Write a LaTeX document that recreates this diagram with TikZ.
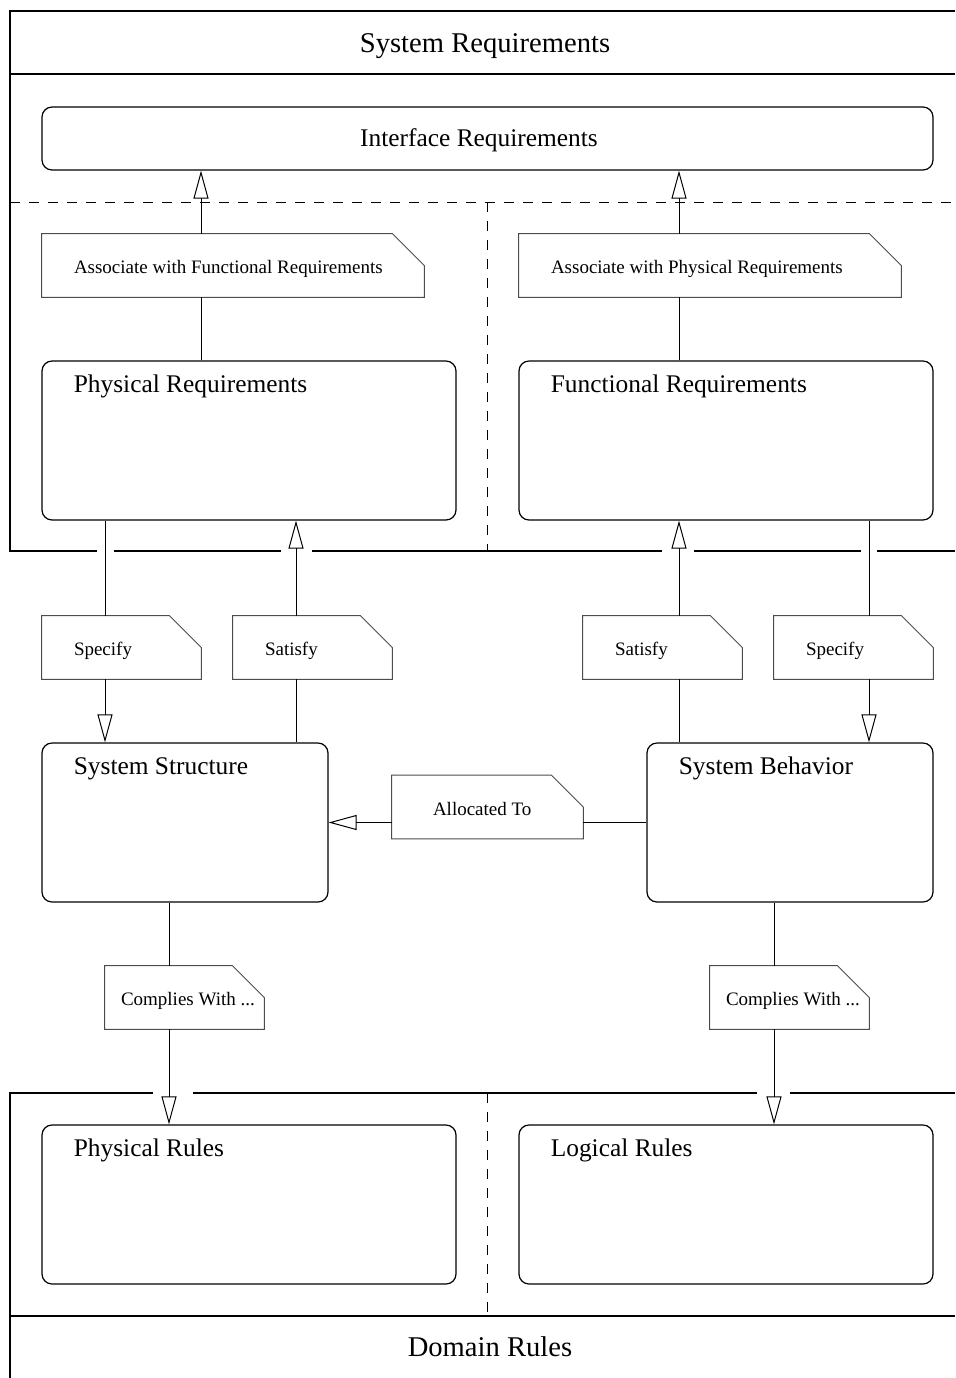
\documentclass[tikz,border=0pt]{standalone}
\usepackage{fontspec}
\setmainfont{Liberation Serif}
\usetikzlibrary{arrows.meta}

\tikzset{
  box/.style={draw,line width=0.6pt,rounded corners=5pt,inner sep=0pt},
  note/.style={inner sep=0pt,minimum width=79.5pt,minimum height=31.5pt},
  noteline/.style={draw=black!70,line width=0.45pt},
  notetext/.style={anchor=base west,inner sep=0pt,font=\fontsize{9.5}{11}\selectfont},
  boxtitle/.style={anchor=base west,inner sep=0pt,font=\fontsize{12.7}{15}\selectfont},
  frametitle/.style={anchor=base,inner sep=0pt,font=\fontsize{14.3}{17}\selectfont},
  frameline/.style={line width=0.55pt},
  laneline/.style={line width=0.5pt,dash pattern=on 5pt off 4.5pt},
  tri/.style={-{Triangle[open,length=14pt,width=7.5pt]}}
}

\begin{document}
\begin{tikzpicture}[x=0.5pt,y=-0.5pt]
  \useasboundingbox (0,0) rectangle (955,1378);
  \coordinate (laneA) at (105,0);
  \coordinate (laneB) at (296,0);
  \coordinate (laneC) at (679,0);
  \coordinate (laneD) at (869,0);
  \coordinate (laneE) at (201,0);
  \coordinate (laneG) at (169,0);
  \coordinate (laneH) at (774,0);

  \draw[frameline] (955,11) -- (10,11) -- (10,551) -- (97,551);
  \draw[frameline] (114,551) -- (281,551) (312,551) -- (662,551)
    (694,551) -- (861,551) (877,551) -- (955,551);
  \draw[frameline] (10,74) -- (955,74);
  \draw[laneline] (10,202) -- (955,202) (487,202) -- (487,551);
  \draw[frameline] (153,1093) -- (10,1093) -- (10,1378);
  \draw[frameline] (193,1093) -- (757,1093) (790,1093) -- (955,1093);
  \draw[frameline] (10,1316) -- (955,1316);
  \draw[laneline] (487,1093) -- (487,1316);
  \node[frametitle] (sysreqT) at (485,52) {System Requirements};
  \node[frametitle] (domainT) at (490,1356) {Domain Rules};

  \begin{scope}[every node/.style={box}]
  \node[minimum width=445.5pt,minimum height=31.5pt] (iface) at (487.5,138.5) {};
  \node[minimum width=207pt,minimum height=79.5pt] (physreq) at (249,440.5) {};
  \node[minimum width=207pt,minimum height=79.5pt] (funcreq) at (726,440.5) {};
  \node[minimum width=143pt,minimum height=79.5pt] (struct) at (185,822.5) {};
  \node[minimum width=143pt,minimum height=79.5pt] (behav) at (790,822.5) {};
  \node[minimum width=207pt,minimum height=79.5pt] (physrules) at (249,1204.5) {};
  \node[minimum width=207pt,minimum height=79.5pt] (logrules) at (726,1204.5) {};
  \end{scope}
  \node[boxtitle,anchor=base] (ifaceT) at (479,146) {Interface Requirements};
  \node[boxtitle] (physreqT) at ([shift={(16pt,-16pt)}]physreq.north west) {Physical Requirements};
  \node[boxtitle] (funcreqT) at ([shift={(16pt,-16pt)}]funcreq.north west) {Functional Requirements};
  \node[boxtitle] (structT) at ([shift={(16pt,-16pt)}]struct.north west) {System Structure};
  \node[boxtitle] (behavT) at ([shift={(16pt,-16pt)}]behav.north west) {System Behavior};
  \node[boxtitle] (physrulesT) at ([shift={(16pt,-16pt)}]physrules.north west) {Physical Rules};
  \node[boxtitle] (logrulesT) at ([shift={(16pt,-16pt)}]logrules.north west) {Logical Rules};

  \begin{scope}[every node/.style={note}]
  \node[minimum width=191pt] (assocP) at (233,265.5) {};
  \node[minimum width=191pt] (assocF) at (710,265.5) {};
  \node (specP) at (121.5,647.5) {};
  \node (satP) at (312.5,647.5) {};
  \node (satF) at (662.5,647.5) {};
  \node (specF) at (853.5,647.5) {};
  \node[minimum width=95.5pt] (alloc) at (487.5,807) {};
  \node (compS) at (184.5,997.5) {};
  \node (compB) at (789.5,997.5) {};
  \end{scope}
  \foreach \n in {assocP,assocF,specP,satP,satF,specF,alloc,compS,compB}
    \draw[noteline] (\n.south west) -- (\n.south east) -- ([yshift=-16pt]\n.north east)
      -- ([xshift=-16pt]\n.north east) -- (\n.north west) -- cycle;
  \node[notetext] (assocPT) at ([shift={(16pt,-4pt)}]assocP.west) {Associate with Functional Requirements};
  \node[notetext] (assocFT) at ([shift={(16pt,-4pt)}]assocF.west) {Associate with Physical Requirements};
  \node[notetext] (specPT) at ([shift={(16pt,-4pt)}]specP.west) {Specify};
  \node[notetext] (satPT) at ([shift={(16pt,-4pt)}]satP.west) {Satisfy};
  \node[notetext] (satFT) at ([shift={(16pt,-4pt)}]satF.west) {Satisfy};
  \node[notetext] (specFT) at ([shift={(16pt,-4pt)}]specF.west) {Specify};
  \node[notetext] (allocT) at ([shift={(20.5pt,-4pt)}]alloc.west) {Allocated To};
  \node[notetext] (compST) at ([shift={(8pt,-4pt)}]compS.west) {Complies With ...};
  \node[notetext] (compBT) at ([shift={(8pt,-4pt)}]compB.west) {Complies With ...};

  \begin{scope}[every edge/.style={draw=black,line width=0.5pt}]
  \path (physreq.north -| laneE) edge (assocP.south -| laneE);
  \path (assocP.north -| laneE) edge[tri] (iface.south -| laneE);
  \path (funcreq.north -| laneC) edge (assocF.south -| laneC);
  \path (assocF.north -| laneC) edge[tri] (iface.south -| laneC);
  \path (physreq.south -| laneA) edge (specP.north -| laneA);
  \path (specP.south -| laneA) edge[tri] (struct.north -| laneA);
  \path (struct.north -| laneB) edge (satP.south -| laneB);
  \path (satP.north -| laneB) edge[tri] (physreq.south -| laneB);
  \path (behav.north -| laneC) edge (satF.south -| laneC);
  \path (satF.north -| laneC) edge[tri] (funcreq.south -| laneC);
  \path (funcreq.south -| laneD) edge (specF.north -| laneD);
  \path (specF.south -| laneD) edge[tri] (behav.north -| laneD);
  \path (behav.west) edge (alloc.east |- behav.west);
  \path (alloc.west |- struct.east) edge[tri] (struct.east);
  \path (struct.south -| laneG) edge (compS.north -| laneG);
  \path (compS.south -| laneG) edge[tri] (physrules.north -| laneG);
  \path (behav.south -| laneH) edge (compB.north -| laneH);
  \path (compB.south -| laneH) edge[tri] (logrules.north -| laneH);
  \end{scope}
\end{tikzpicture}
\end{document}
